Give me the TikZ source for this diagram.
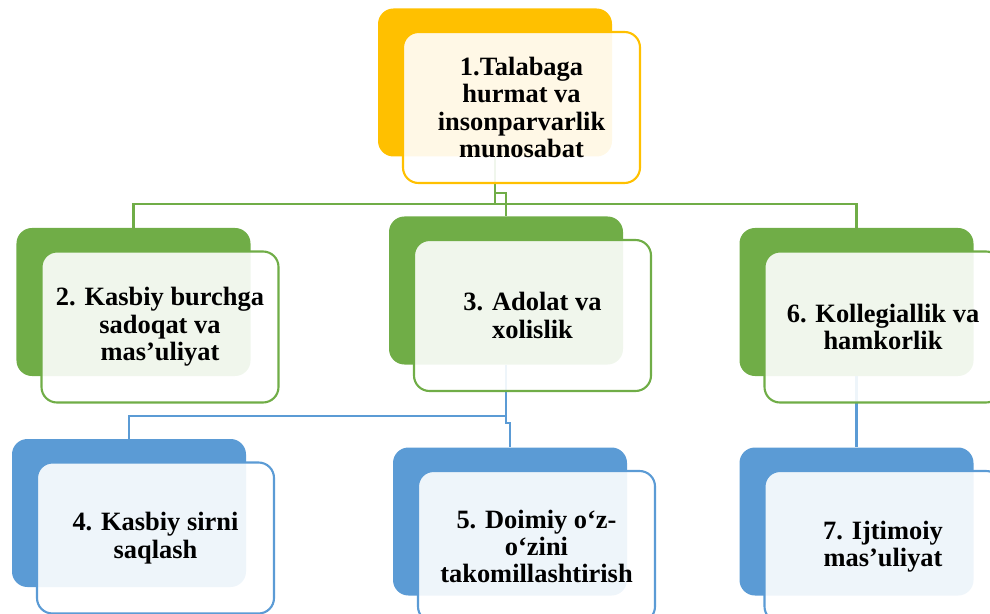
\documentclass[tikz,border=0pt]{standalone}
\usepackage{fontspec}
\setmainfont{Liberation Serif}

\definecolor{gold}{HTML}{FFC000}
\definecolor{leaf}{HTML}{70AD47}
\definecolor{sky}{HTML}{5B9BD5}

\begin{document}
\begin{tikzpicture}[
    backbox/.style={rectangle, rounded corners=11pt, fill=#1, minimum width=5.85cm, minimum height=3.7cm, inner sep=0pt},
    frontbox/.style={rectangle, rounded corners=11pt, draw=#1, line width=1.5pt, fill=white, fill opacity=0.9, text opacity=1,
        minimum width=5.925cm, minimum height=3.775cm, inner sep=0pt, align=center, font=\bfseries\fontsize{18.8}{19.5}\selectfont},
    link/.style={draw=#1, line width=1.7pt}
]
    \clip (0, 0) rectangle (24.75, 15.325);

    % coloured back plates
    \node [backbox=gold] (b1) at (12.375, 13.2625) {};
    \node [backbox=leaf] (b2) at (3.3375, 7.775) {};
    \node [backbox=leaf] (b3) at (12.65, 8.0625) {};
    \node [backbox=leaf] (b6) at (21.4125, 7.775) {};
    \node [backbox=sky] (b4) at (3.225, 2.5) {};
    \node [backbox=sky] (b5) at (12.75, 2.2875) {};
    \node [backbox=sky] (b7) at (21.4125, 2.2875) {};

    % connectors
    \draw [link=leaf] (b1.south) -- ++(0, -0.9125) -| (b3.north);
    \draw [link=leaf] (b1.south) -- ++(0, -1.1875) -| (b2.north);
    \draw [link=leaf] (b1.south) -- ++(0, -1.1875) -| (b6.north);
    \draw [link=sky] (b3.south) -- ++(0, -1.2875) -| (b4.north);
    \draw [link=sky] (b3.south) -- ++(0, -1.4625) -| (b5.north);
    \draw [link=sky] (b6.south) -- (b7.north);

    % text cards
    \node [frontbox=gold] (t1) at ([shift={(0.6625, -0.625)}]b1.center) {1.Talabaga\\hurmat va\\insonparvarlik\\munosabat};
    \node [frontbox=leaf] (t2) at ([shift={(0.6625, -0.625)}]b2.center) {2. Kasbiy burchga\\sadoqat va\\mas’uliyat};
    \node [frontbox=leaf] (t3) at ([shift={(0.6625, -0.625)}]b3.center) {3. Adolat va\\xolislik};
    \node [frontbox=leaf] (t6) at ([shift={(0.6625, -0.625)}]b6.center) {6. Kollegiallik va\\hamkorlik};
    \node [frontbox=sky] (t4) at ([shift={(0.6625, -0.625)}]b4.center) {4. Kasbiy sirni\\saqlash};
    \node [frontbox=sky] (t5) at ([shift={(0.6625, -0.625)}]b5.center) {5. Doimiy o‘z-\\o‘zini\\takomillashtirish};
    \node [frontbox=sky] (t7) at ([shift={(0.6625, -0.625)}]b7.center) {7. Ijtimoiy\\mas’uliyat};
\end{tikzpicture}
\end{document}
